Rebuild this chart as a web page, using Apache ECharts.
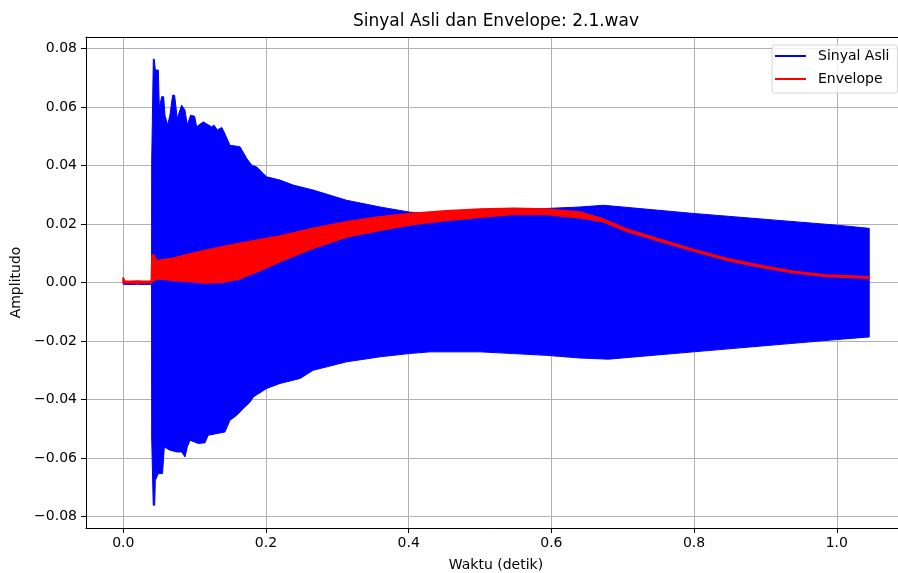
<!DOCTYPE html>
<html>
<head>
<meta charset="utf-8">
<script src="https://cdn.jsdelivr.net/npm/echarts@6/dist/echarts.min.js"></script>
<style>html,body{margin:0;padding:0;background:#fff}#c{width:898px;height:573px}</style>
</head>
<body>
<div id="c"></div>
<script>
// ---- Data ----
// Upper peaks of the original signal (time in s, amplitude)
const upperTime = [0, 0.01, 0.02, 0.03, 0.0396, 0.0398, 0.0421, 0.0435, 0.0449, 0.0491,
  0.0505, 0.0538, 0.0566, 0.0584, 0.0622, 0.0654, 0.0691, 0.0719, 0.0757, 0.0794,
  0.0818, 0.0865, 0.0897, 0.0944, 0.1000, 0.1028, 0.1120, 0.1238, 0.1271, 0.1318,
  0.1379, 0.1412, 0.1495, 0.1636, 0.1730, 0.1800, 0.1870, 0.1963, 0.2010, 0.2196,
  0.2380, 0.2660, 0.3130, 0.3600, 0.4000, 0.4200, 0.4530, 0.5000, 0.5470, 0.5930,
  0.6400, 0.6730, 0.7990, 1.0000, 1.0455];
const upperAmp = [0.0004, 0.0003, 0.0004, 0.0003, 0.0004, 0.0408, 0.0763, 0.0763, 0.0726, 0.0726,
  0.0596, 0.0635, 0.0635, 0.0572, 0.0538, 0.0572, 0.0640, 0.0640, 0.0560, 0.0589,
  0.0606, 0.0589, 0.0538, 0.0572, 0.0568, 0.0532, 0.0549, 0.0532, 0.0538, 0.0521,
  0.0530, 0.0515, 0.0469, 0.0464, 0.0424, 0.0401, 0.0395, 0.0372, 0.0361, 0.0350,
  0.0333, 0.0316, 0.0281, 0.0258, 0.0241, 0.0236, 0.0241, 0.0250, 0.0253, 0.0253,
  0.0258, 0.0264, 0.0236, 0.0196, 0.0185];
// Lower peaks of the original signal
const lowerTime = [0, 0.01, 0.02, 0.03, 0.0396, 0.0398, 0.0420, 0.0440, 0.0449, 0.0491,
  0.0550, 0.0575, 0.0654, 0.0748, 0.0818, 0.0865, 0.0897, 0.0935, 0.1050, 0.1145,
  0.1190, 0.1425, 0.1495, 0.1590, 0.1680, 0.1776, 0.1823, 0.2010, 0.2196, 0.2477,
  0.2660, 0.3130, 0.3600, 0.4000, 0.4300, 0.5000, 0.5470, 0.5930, 0.6400, 0.6800,
  0.7990, 1.0000, 1.0455];
const lowerAmp = [-0.0006, -0.0007, -0.0006, -0.0007, -0.0006, -0.0528, -0.0761, -0.0761, -0.0676, -0.0653,
  -0.0653, -0.0562, -0.0573, -0.0579, -0.0579, -0.0596, -0.0562, -0.0539, -0.0550, -0.0548,
  -0.0522, -0.0511, -0.0471, -0.0454, -0.0431, -0.0409, -0.0391, -0.0362, -0.0345, -0.0328,
  -0.0300, -0.0271, -0.0254, -0.0243, -0.0237, -0.0237, -0.0243, -0.0249, -0.0258, -0.0262,
  -0.0237, -0.0195, -0.0186];
// Envelope (its ripple band: top and bottom)
const envTime = [0, 0.002, 0.01, 0.02, 0.03, 0.0396, 0.0405, 0.043, 0.046, 0.0514,
  0.07, 0.09, 0.117, 0.14, 0.1636, 0.19, 0.2196, 0.266, 0.313, 0.36,
  0.406, 0.453, 0.5, 0.547, 0.593, 0.612, 0.64, 0.673, 0.706, 0.752,
  0.799, 0.846, 0.892, 0.939, 0.986, 1.0455];
const envUpper = [0.0015, 0.0004, 0.0003, 0.0004, 0.0003, 0.0004, 0.0093, 0.0093, 0.0075, 0.0076,
  0.0082, 0.0095, 0.0110, 0.0122, 0.0133, 0.0145, 0.0158, 0.0185, 0.0207, 0.0224,
  0.0236, 0.0244, 0.0250, 0.0253, 0.0250, 0.0246, 0.0240, 0.0216, 0.0181, 0.0147,
  0.0112, 0.0081, 0.0058, 0.0038, 0.0025, 0.0019];
const envLower = [0.0000, 0.0000, -0.0001, 0.0000, -0.0001, 0.0000, 0.0008, 0.0006, 0.0012, 0.0014,
  0.0008, 0.0004, -0.0001, 0.0002, 0.0014, 0.0040, 0.0072, 0.0118, 0.0156, 0.0179,
  0.0199, 0.0213, 0.0224, 0.0233, 0.0233, 0.0228, 0.0222, 0.0208, 0.0175, 0.0142,
  0.0108, 0.0077, 0.0054, 0.0034, 0.0021, 0.0015];
// Tick labels
const xTicks = [0, 0.2, 0.4, 0.6, 0.8, 1.0];
const yTicks = [-0.08, -0.06, -0.04, -0.02, 0, 0.02, 0.04, 0.06, 0.08];

const FONT = 'DejaVu Sans';
const X_MIN = -0.05225, X_MAX = 1.0858;
const Y_MIN = -0.0839, Y_MAX = 0.0839;

function bandRenderer(tU, vU, tL, vL, color, lw, join) {
  return function (params, api) {
    const pts = [];
    for (let i = 0; i < tU.length; i++) pts.push(api.coord([tU[i], vU[i]]));
    for (let i = tL.length - 1; i >= 0; i--) pts.push(api.coord([tL[i], vL[i]]));
    return {
      type: 'polygon',
      shape: { points: pts },
      style: { fill: color, stroke: color, lineWidth: lw, lineJoin: join }
    };
  };
}

const fmtY = v => (v < 0 ? '\u2212' : '') + Math.abs(v).toFixed(2);
const fmtX = v => v.toFixed(1);

const chart = echarts.init(document.getElementById('c'), null, { renderer: 'canvas' });
chart.setOption({
  animation: false,
  backgroundColor: '#ffffff',
  textStyle: { fontFamily: FONT },
  grid: { left: 86, right: 0, top: 37, bottom: 45, containLabel: false, outerBoundsMode: 'none' },
  graphic: [{
    type: 'text', x: 496, y: 22,
    style: { text: 'Sinyal Asli dan Envelope: 2.1.wav', textAlign: 'center', textVerticalAlign: 'middle',
      font: '17px "DejaVu Sans"', fill: '#000' }
  }],
  legend: {
    orient: 'vertical', left: 772, top: 45,
    data: [{ name: 'Sinyal Asli', icon: 'rect' }, { name: 'Envelope', icon: 'rect' }],
    itemWidth: 31, itemHeight: 2, itemGap: 7,
    textStyle: { fontFamily: FONT, fontSize: 14, color: '#000', lineHeight: 16, padding: [0, 0, 0, 7] },
    padding: [3, 8, 6, 3],
    backgroundColor: 'rgba(255,255,255,0.8)', borderColor: '#d4d4d4', borderWidth: 1, borderRadius: 3,
    selectedMode: false
  },
  xAxis: [{
    type: 'value', min: X_MIN, max: X_MAX,
    name: 'Waktu (detik)', nameLocation: 'middle', nameGap: 30,
    nameTextStyle: { fontFamily: FONT, fontSize: 14, color: '#000', padding: [0, 0, 0, 8] },
    axisLine: { show: true, onZero: false, lineStyle: { color: '#000', width: 1 } },
    axisTick: { show: true, customValues: xTicks, length: 5, lineStyle: { color: '#000', width: 1 } },
    axisLabel: { customValues: xTicks, formatter: fmtX, fontFamily: FONT, fontSize: 14, color: '#000', margin: 8 },
    splitLine: { show: true, lineStyle: { color: '#b0b0b0', width: 1 } }
  }, {
    type: 'value', position: 'top', min: X_MIN, max: X_MAX,
    axisLine: { show: true, onZero: false, lineStyle: { color: '#000', width: 1 } },
    axisTick: { show: false }, axisLabel: { show: false }, splitLine: { show: false }
  }],
  yAxis: [{
    type: 'value', min: Y_MIN, max: Y_MAX,
    name: 'Amplitudo', nameLocation: 'middle', nameGap: 62,
    nameTextStyle: { fontFamily: FONT, fontSize: 14, color: '#000' },
    axisLine: { show: true, onZero: false, lineStyle: { color: '#000', width: 1 } },
    axisTick: { show: true, customValues: yTicks, length: 5, lineStyle: { color: '#000', width: 1 } },
    axisLabel: { customValues: yTicks, formatter: fmtY, fontFamily: FONT, fontSize: 14, color: '#000', margin: 9 },
    splitLine: { show: true, lineStyle: { color: '#b0b0b0', width: 1 } }
  }],
  series: [{
    type: 'custom', name: 'Sinyal Asli', coordinateSystem: 'cartesian2d', xAxisIndex: 0, yAxisIndex: 0,
    data: [[0, 0]], silent: true, z: 2,
    itemStyle: { color: '#0000ff' },
    renderItem: bandRenderer(upperTime, upperAmp, lowerTime, lowerAmp, '#0000ff', 1, 'miter')
  }, {
    type: 'custom', name: 'Envelope', coordinateSystem: 'cartesian2d', xAxisIndex: 0, yAxisIndex: 0,
    data: [[0, 0]], silent: true, z: 3,
    itemStyle: { color: '#ff0000' },
    renderItem: bandRenderer(envTime, envUpper, envTime, envLower, '#ff0000', 2, 'round')
  }]
});
</script>
</body>
</html>
